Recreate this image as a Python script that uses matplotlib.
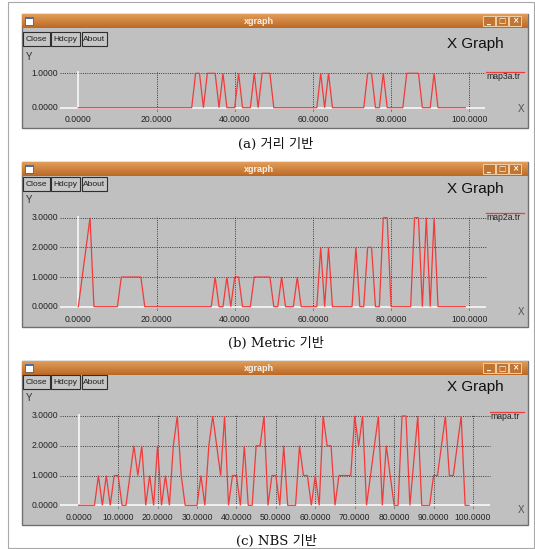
import matplotlib
matplotlib.use("Agg")
import matplotlib.pyplot as plt
from matplotlib.patches import Rectangle
import numpy as np

# values (one sample per step 0..99)
steps = list(range(100))

map3a = [0, 0, 0, 0, 0, 0, 0, 0, 0, 0,
         0, 0, 0, 0, 0, 0, 0, 0, 0, 0,
         0, 0, 0, 0, 0, 0, 0, 0, 0, 0,
         1, 1, 0, 1, 1, 1, 0, 1, 0, 0,
         0, 1, 0, 0, 0, 1, 0, 1, 1, 1,
         0, 0, 0, 0, 0, 0, 0, 0, 0, 0,
         0, 0, 1, 0, 1, 0, 0, 0, 0, 0,
         0, 0, 0, 0, 1, 1, 0, 0, 1, 0,
         0, 0, 0, 0, 1, 1, 1, 1, 0, 0,
         0, 1, 0, 0, 0, 0, 0, 0, 0, 0]

map2a = [0, 1, 2, 3, 0, 0, 0, 0, 0, 0,
         0, 1, 1, 1, 1, 1, 1, 0, 0, 0,
         0, 0, 0, 0, 0, 0, 0, 0, 0, 0,
         0, 0, 0, 0, 0, 1, 0, 0, 1, 0,
         1, 1, 0, 0, 0, 1, 1, 1, 1, 1,
         0, 0, 1, 0, 0, 0, 1, 0, 0, 0,
         0, 0, 2, 0, 2, 0, 0, 0, 0, 0,
         0, 2, 0, 0, 2, 2, 0, 0, 3, 3,
         0, 0, 0, 0, 0, 0, 3, 3, 0, 3,
         0, 3, 0, 0, 0, 0, 0, 0, 0, 0]

mapa = [0, 0, 0, 0, 0, 1, 0, 1, 0, 1,
        1, 0, 0, 1, 2, 1, 2, 0, 1, 0,
        2, 0, 1, 0, 2, 3, 1, 0, 0, 0,
        0, 1, 0, 2, 3, 2, 1, 3, 0, 1,
        1, 0, 2, 0, 0, 2, 2, 3, 0, 1,
        1, 0, 2, 0, 0, 0, 2, 1, 1, 0,
        1, 0, 3, 2, 2, 0, 1, 1, 1, 1,
        3, 2, 3, 0, 1, 2, 3, 0, 2, 1,
        0, 0, 3, 3, 0, 1.5, 3, 0, 0, 0,
        1, 1, 2, 3, 1, 1, 2, 3, 0, 0]

series = [map3a, map2a, mapa]
legend_names = ["map3a.tr", "map2a.tr", "mapa.tr"]
captions = ["(a) 거리 기반", "(b) Metric 기반", "(c) NBS 기반"]
y_ticks = [[0, 1], [0, 1, 2, 3], [0, 1, 2, 3]]
x_ticks = [[0, 20, 40, 60, 80, 100],
           [0, 20, 40, 60, 80, 100],
           [0, 10, 20, 30, 40, 50, 60, 70, 80, 90, 100]]

# pixel geometry of each window in the 535x549 screenshot
W, H = 535, 549
panels = [
    dict(top=14, bottom=128, x0=78.3, x100=469.3, y0=107.7, yunit=34.4,
         btn=39.2, xg=44.3, ylab=56.7, leg=71.7, legx=486, tick=119,
         xlab=109, gright=485, cap=144),
    dict(top=162, bottom=327, x0=78.3, x100=469.3, y0=306.7, yunit=29.67,
         btn=184.0, xg=189.3, ylab=200.0, leg=212.7, legx=486, tick=319,
         xlab=311.7, gright=486, cap=343),
    dict(top=361, bottom=525, x0=78.7, x100=473.0, y0=505.3, yunit=29.77,
         btn=382.3, xg=387.3, ylab=397.7, leg=411.7, legx=490, tick=518,
         xlab=510, gright=490, cap=541),
]

plt.rcParams['font.family'] = ['Liberation Sans', 'DejaVu Sans']

fig = plt.figure(figsize=(W / 100, H / 100), dpi=100)
fig.patch.set_facecolor('white')

bg = fig.add_axes([0, 0, 1, 1])
bg.set_xlim(0, W)
bg.set_ylim(H, 0)
bg.axis('off')

# thin frame around the whole figure
bg.add_patch(Rectangle((8, 2), 526, 546, fill=False, ec='#a8a8a8', lw=0.8))

win_l, win_r = 22, 528
bar_h = 14
top_c = np.array([0xe0, 0x9c, 0x58]) / 255
bot_c = np.array([0xbb, 0x6a, 0x26]) / 255

for p, ys, name, cap, yt, xt in zip(panels, series, legend_names, captions,
                                     y_ticks, x_ticks):
    t, b = p['top'], p['bottom']
    # window body
    bg.add_patch(Rectangle((win_l, t), win_r - win_l, b - t,
                           fc='#c0c0c0', ec='#707070', lw=1.0))
    # title bar gradient
    for i in range(bar_h):
        c = top_c + (bot_c - top_c) * i / (bar_h - 1)
        bg.add_patch(Rectangle((win_l, t + i), win_r - win_l, 1.05,
                               fc=c, ec='none'))
    bg.text(259, t + 7.5, 'xgraph', color='#f6f0ea', fontsize=6.5,
            fontweight='bold', ha='center', va='center')
    # window icon
    bg.add_patch(Rectangle((25, t + 3), 8, 8, fc='white', ec='#5a5a5a', lw=0.6))
    bg.add_patch(Rectangle((25, t + 3), 8, 2.2, fc='#4a6fb0', ec='none'))
    # min / max / close buttons
    for bx, glyph in zip([483, 496, 509], ['_', '□', '×']):
        bg.add_patch(Rectangle((bx, t + 2), 11.5, 10, fc='#c27430',
                               ec='#f0cfa8', lw=0.7))
        bg.text(bx + 5.75, t + 7, glyph, color='white', fontsize=5.5,
                fontweight='bold', ha='center', va='center',
                family='DejaVu Sans')
    # Close / Hdcpy / About
    for bx, bw, lab in zip([23, 51, 82], [27, 29, 25], ['Close', 'Hdcpy', 'About']):
        bg.add_patch(Rectangle((bx, p['btn'] - 7), bw, 14, fc='#c6c6c6',
                               ec='#2e2e2e', lw=0.8))
        bg.text(bx + bw / 2, p['btn'], lab, fontsize=6, color='#1e1e1e',
                ha='center', va='center')
    bg.text(447, p['xg'], 'X Graph', fontsize=11, color='#101010',
            ha='left', va='center')
    bg.text(26, p['ylab'], 'Y', fontsize=7, color='#303030',
            ha='left', va='center')
    bg.text(521, p['xlab'], 'X', fontsize=7, color='#505050',
            ha='center', va='center')
    # caption under the window
    bg.text(276, p['cap'], cap, fontsize=9.5, color='#111111', ha='center',
            va='center', family=['DejaVu Serif', 'Noto Sans CJK KR'])

    # plotting axes over the window interior, scaled so data lands on pixels
    s = 100 / (p['x100'] - p['x0'])

    def fx(px):
        return (px - p['x0']) * s

    def fy(py):
        return (p['y0'] - py) / p['yunit']

    ax = fig.add_axes([win_l / W, 1 - b / H, (win_r - win_l) / W,
                       (b - t - bar_h - 1) / H])
    ax.set_xlim(fx(win_l), fx(win_r))
    ax.set_ylim(fy(b), fy(t + bar_h + 1))
    ax.axis('off')
    ax.patch.set_alpha(0)

    ymax = yt[-1]
    # dotted grid
    ax.hlines(yt[1:], fx(60), fx(p['gright']), colors='#3a3a3a',
              linestyles=(0, (1, 1.3)), lw=0.7)
    ax.vlines(xt[1:], fy(p['y0'] + 3), ymax + 2 / p['yunit'], colors='#3a3a3a',
              linestyles=(0, (1, 1.3)), lw=0.7)
    # white zero axes
    ax.hlines(0, fx(60), fx(p['gright']), colors='#f4f4f4', lw=1.3)
    ax.vlines(0, 0, ymax + 2 / p['yunit'], colors='#f4f4f4', lw=1.3)

    ax.plot(steps, ys, color='#f23a3a', lw=0.9, solid_joinstyle='miter')

    for v in yt:
        ax.text(fx(58), v, '%.4f' % v, fontsize=6.2, color='#222222',
                ha='right', va='center')
    for v in xt:
        ax.text(v, fy(p['tick']), '%.4f' % v, fontsize=6.2, color='#222222',
                ha='center', va='center')

    # legend
    ax.plot([fx(p['legx']), fx(524)], [fy(p['leg'])] * 2, color='#f23a3a', lw=0.9)
    ax.text(fx(p['legx'] + 0.5), fy(p['leg'] + 5), name, fontsize=6.2,
            color='#222222', ha='left', va='center')

fig.savefig('out.png', dpi=100, facecolor='white')
